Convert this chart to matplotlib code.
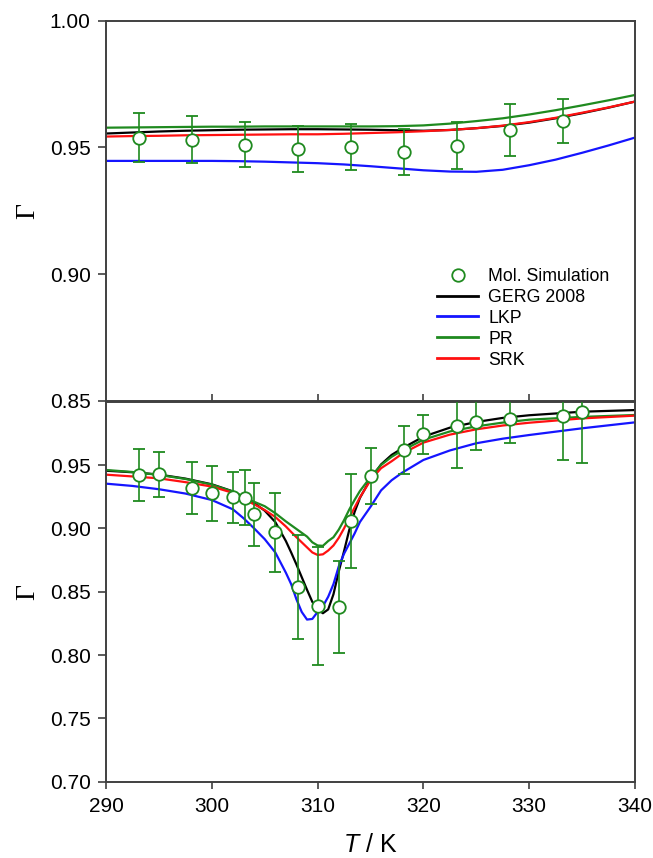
import numpy as np
import matplotlib
matplotlib.use("Agg")
import matplotlib.pyplot as plt
from matplotlib.lines import Line2D

# ---- data ----
# top panel: model curves
T_top = [290, 292.5, 295, 297.5, 300, 302.5, 305, 307.5, 310, 312.5, 315, 317.5,
         320, 322.5, 325, 327.5, 330, 332.5, 335, 337.5, 340]
gerg_top = [0.9555, 0.9559, 0.9563, 0.9566, 0.9568, 0.9570, 0.9571, 0.9572, 0.9572, 0.9571, 0.9570,
            0.9568, 0.9566, 0.9569, 0.9576, 0.9585, 0.9598, 0.9615, 0.9635, 0.9657, 0.9681]
lkp_top = [0.9447, 0.9447, 0.9447, 0.9447, 0.9447, 0.9446, 0.9444, 0.9441, 0.9438, 0.9433, 0.9426,
           0.9418, 0.9410, 0.9405, 0.9404, 0.9412, 0.9430, 0.9452, 0.9479, 0.9508, 0.9539]
pr_top = [0.9578, 0.9579, 0.9580, 0.9581, 0.9582, 0.9582, 0.9583, 0.9583, 0.9583, 0.9583, 0.9583,
          0.9584, 0.9587, 0.9594, 0.9604, 0.9615, 0.9630, 0.9647, 0.9666, 0.9686, 0.9707]
srk_top = [0.9543, 0.9545, 0.9546, 0.9548, 0.9549, 0.9550, 0.9551, 0.9552, 0.9552, 0.9554, 0.9557,
           0.9560, 0.9564, 0.9569, 0.9576, 0.9586, 0.9600, 0.9617, 0.9637, 0.9658, 0.9681]

# top panel: simulation points
T_top_sim = [293.15, 298.15, 303.15, 308.15, 313.15, 318.15, 323.15, 328.15, 333.15]
G_top_sim = [0.9539, 0.9531, 0.9511, 0.9494, 0.9501, 0.9481, 0.9507, 0.9569, 0.9604]
err_top_sim = [0.0095, 0.0092, 0.0088, 0.0089, 0.0090, 0.0090, 0.0092, 0.0101, 0.0086]

# bottom panel: model curves
T_bot = [290, 292.5, 295, 297.5, 300, 302, 303, 304, 305, 306, 307, 307.5, 308, 308.5, 309, 309.5,
         310, 310.5, 311, 311.5, 312, 312.5, 313, 313.5, 314, 315, 316, 317, 318, 320, 322.5,
         325, 327.5, 330, 335, 340]
gerg_bot = [0.9455, 0.9443, 0.9425, 0.9393, 0.9348, 0.9292, 0.9248, 0.9200, 0.9140, 0.9050, 0.8900,
            0.8810, 0.8715, 0.8615, 0.8515, 0.8420, 0.8360, 0.8330, 0.8360, 0.8480, 0.8660, 0.8820,
            0.8990, 0.9130, 0.9240, 0.9390, 0.9505, 0.9580, 0.9632, 0.9724, 0.9795, 0.9840, 0.9872,
            0.9893, 0.9921, 0.9934]
lkp_bot = [0.9353, 0.9335, 0.9309, 0.9275, 0.9224, 0.9150, 0.9080, 0.9000, 0.8915, 0.8810, 0.8650,
           0.8560, 0.8440, 0.8340, 0.8280, 0.8285, 0.8340, 0.8385, 0.8460, 0.8560, 0.8700, 0.8800,
           0.8880, 0.8960, 0.9050, 0.9170, 0.9300, 0.9380, 0.9440, 0.9540, 0.9615, 0.9672, 0.9708,
           0.9737, 0.9790, 0.9837]
pr_bot = [0.9461, 0.9445, 0.9422, 0.9390, 0.9345, 0.9290, 0.9245, 0.9210, 0.9175, 0.9120, 0.9055,
          0.9025, 0.8995, 0.8965, 0.8935, 0.8890, 0.8865, 0.8862, 0.8900, 0.8930, 0.8990, 0.9065,
          0.9150, 0.9225, 0.9295, 0.9405, 0.9500, 0.9565, 0.9615, 0.9700, 0.9765, 0.9805, 0.9835,
          0.9858, 0.9880, 0.9895]
srk_bot = [0.9424, 0.9410, 0.9395, 0.9365, 0.9330, 0.9280, 0.9230, 0.9190, 0.9145, 0.9090, 0.9015,
           0.8972, 0.8930, 0.8890, 0.8850, 0.8810, 0.8790, 0.8795, 0.8825, 0.8865, 0.8925, 0.9000,
           0.9085, 0.9165, 0.9245, 0.9380, 0.9475, 0.9530, 0.9590, 0.9677, 0.9740, 0.9782, 0.9812,
           0.9834, 0.9868, 0.9890]

# bottom panel: simulation points
T_bot_sim = [293.15, 295, 298.15, 300, 302, 303.15, 304, 306, 308.15, 310, 312, 313.15, 315,
             318.15, 320, 323.15, 325, 328.15, 333.15, 335]
G_bot_sim = [0.9421, 0.9427, 0.9322, 0.9277, 0.9246, 0.9243, 0.9112, 0.8970, 0.8534, 0.8388,
             0.8378, 0.9061, 0.9415, 0.9619, 0.9743, 0.9811, 0.9842, 0.9863, 0.9890, 0.9916]
err_bot_sim = [0.0204, 0.0178, 0.0205, 0.0216, 0.0200, 0.0215, 0.0250, 0.0312, 0.0410, 0.0466,
               0.0363, 0.0372, 0.0220, 0.0190, 0.0155, 0.0332, 0.0221, 0.0186, 0.0350, 0.0400]

labels = ["Mol. Simulation", "GERG 2008", "LKP", "PR", "SRK"]
GREEN = "#1f8a1f"
AXC = "#404040"
curve_colors = {"GERG 2008": "black", "LKP": "#1515ff", "PR": GREEN, "SRK": "#ff1010"}

plt.rcParams["font.family"] = ["Liberation Sans", "DejaVu Sans"]
plt.rcParams["mathtext.fontset"] = "custom"
plt.rcParams["mathtext.it"] = "Liberation Sans:italic"
plt.rcParams["mathtext.rm"] = "Liberation Sans"

fig = plt.figure(figsize=(6.53, 8.58), dpi=100)
W, H = 653.0, 858.0
ax_top = fig.add_axes([106 / W, 1 - 401 / H, 529 / W, 380.3 / H])
ax_bot = fig.add_axes([106 / W, 1 - 781.7 / H, 529 / W, 380.0 / H])


def draw_panel(ax, T, curves, Ts, Gs, errs):
    for name, vals in curves:
        ax.plot(T, vals, color=curve_colors[name], lw=1.6, zorder=2)
    ax.errorbar(Ts, Gs, yerr=errs, fmt="o", ms=9, mfc="white", mec=GREEN, mew=1.3,
                ecolor=GREEN, elinewidth=1.2, capsize=4.5, capthick=1.2, zorder=4)
    ax.set_xlim(290, 340)
    for s in ax.spines.values():
        s.set_color(AXC)
        s.set_linewidth(1.4)
    ax.tick_params(colors=AXC, labelcolor="black", labelsize=15, width=1.2)
    ax.set_ylabel("Γ", family="Liberation Serif", fontsize=20, rotation=90)
    ax.yaxis.set_label_coords(-0.125, 0.5)


draw_panel(ax_top, T_top,
           [("GERG 2008", gerg_top), ("LKP", lkp_top), ("PR", pr_top), ("SRK", srk_top)],
           T_top_sim, G_top_sim, err_top_sim)
draw_panel(ax_bot, T_bot,
           [("GERG 2008", gerg_bot), ("LKP", lkp_bot), ("PR", pr_bot), ("SRK", srk_bot)],
           T_bot_sim, G_bot_sim, err_bot_sim)

ax_top.set_ylim(0.85, 1.00)
ax_top.set_yticks([0.85, 0.90, 0.95, 1.00])
ax_top.set_yticklabels(["%.2f" % v for v in [0.85, 0.90, 0.95, 1.00]])
ax_top.set_xticks([300, 310, 320, 330])
ax_top.tick_params(axis="x", direction="in", length=5, labelbottom=False)
ax_top.tick_params(axis="y", direction="out", length=6, pad=5)

ax_bot.set_ylim(0.70, 1.00)
ax_bot.set_yticks([0.70, 0.75, 0.80, 0.85, 0.90, 0.95])
ax_bot.set_yticklabels(["%.2f" % v for v in [0.70, 0.75, 0.80, 0.85, 0.90, 0.95]])
ax_bot.set_xticks([290, 300, 310, 320, 330, 340])
ax_bot.tick_params(axis="x", direction="out", length=5, pad=6)
ax_bot.tick_params(axis="y", direction="out", length=6, pad=5)

fig.text((106 + 635) / 2 / W, 1 - 852 / H, r"$\it{T}$ / K", fontsize=18,
         ha="center", va="baseline")

handles = [Line2D([], [], ls="none", marker="o", ms=9, mfc="white", mec=GREEN, mew=1.3)]
handles += [Line2D([], [], color=curve_colors[n], lw=2.0) for n in labels[1:]]
ax_top.legend(handles, labels, loc="upper left", bbox_to_anchor=(0.625, 0.35),
              frameon=False, fontsize=12.8, borderpad=0, borderaxespad=0,
              labelspacing=0.22, handlelength=2.35, handletextpad=0.55)

fig.savefig("out.png", dpi=100)
